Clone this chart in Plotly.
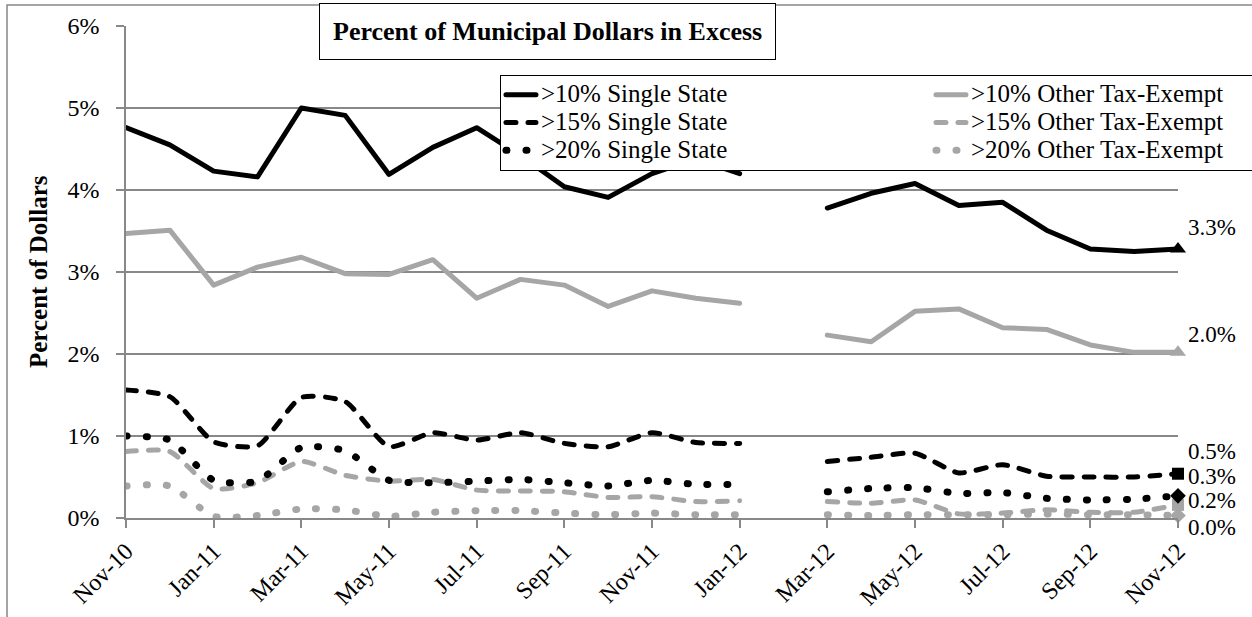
import plotly.graph_objects as go

# ── data ────────────────────────────────────────────────────────────────────
months = ["Nov-10", "Dec-10", "Jan-11", "Feb-11", "Mar-11", "Apr-11", "May-11",
          "Jun-11", "Jul-11", "Aug-11", "Sep-11", "Oct-11", "Nov-11", "Dec-11",
          "Jan-12", "Feb-12", "Mar-12", "Apr-12", "May-12", "Jun-12", "Jul-12",
          "Aug-12", "Sep-12", "Oct-12", "Nov-12"]

ss10 = [4.76, 4.55, 4.23, 4.16, 5.00, 4.91, 4.19, 4.52, 4.76, 4.42, 4.04, 3.91, 4.20,
        4.38, 4.20, None, 3.78, 3.96, 4.08, 3.81, 3.85, 3.51, 3.28, 3.25, 3.28]
ss15 = [1.56, 1.48, 0.93, 0.88, 1.47, 1.42, 0.87, 1.04, 0.95, 1.04, 0.91, 0.87, 1.04,
        0.92, 0.91, None, 0.69, 0.74, 0.79, 0.55, 0.65, 0.51, 0.50, 0.50, 0.54]
ss20 = [1.00, 0.95, 0.46, 0.45, 0.86, 0.82, 0.46, 0.43, 0.45, 0.47, 0.43, 0.39, 0.46,
        0.41, 0.41, None, 0.32, 0.36, 0.37, 0.30, 0.31, 0.24, 0.22, 0.23, 0.27]
ote10 = [3.47, 3.51, 2.84, 3.06, 3.18, 2.98, 2.97, 3.15, 2.68, 2.91, 2.84, 2.58, 2.77,
         2.68, 2.62, None, 2.23, 2.15, 2.52, 2.55, 2.32, 2.30, 2.11, 2.02, 2.02]
ote15 = [0.81, 0.81, 0.36, 0.43, 0.69, 0.52, 0.45, 0.47, 0.34, 0.33, 0.32, 0.25, 0.26,
         0.20, 0.21, None, 0.20, 0.18, 0.22, 0.05, 0.06, 0.10, 0.07, 0.07, 0.16]
ote20 = [0.39, 0.39, 0.02, 0.03, 0.11, 0.10, 0.02, 0.07, 0.09, 0.09, 0.06, 0.04, 0.06,
         0.04, 0.04, None, 0.04, 0.03, 0.04, 0.04, 0.04, 0.05, 0.04, 0.04, 0.03]

tick_months = months[::2]

FONT = "Liberation Serif"
BLACK = "#000000"
GRAY = "#a6a6a6"
GRID = "#888888"

# name, values, colour, dash, width, smooth, end marker, legend rank
series = [
    (">20% Other Tax-Exempt", ote20, GRAY, "1px,19px", 7, True, "diamond", 6),
    (">15% Other Tax-Exempt", ote15, GRAY, "10px,12px", 5, True, "square", 4),
    (">10% Other Tax-Exempt", ote10, GRAY, "solid", 5, False, "triangle-up", 2),
    (">20% Single State", ss20, BLACK, "1px,19px", 7, True, "diamond", 5),
    (">15% Single State", ss15, BLACK, "10px,12px", 5, True, "square", 3),
    (">10% Single State", ss10, BLACK, "solid", 5, False, "triangle-up", 1),
]

fig = go.Figure()

for name, vals, color, dash, width, smooth, symbol, rank in series:
    fig.add_trace(go.Scatter(
        x=months, y=vals, legendrank=rank,
        # bigger text than the legend font keeps the rows tight like the original
        name=f"<span style='font-size:25px'>{name}</span>",
        mode="lines",
        line=dict(color=color, width=width, dash=dash,
                  shape="spline" if smooth else "linear", smoothing=0.6),
        connectgaps=False,
        hovertemplate="%{x}: %{y:.2f}%<extra>" + name + "</extra>",
    ))
    # end-of-series marker
    fig.add_trace(go.Scatter(
        x=[months[-1]], y=[vals[-1]], mode="markers", showlegend=False,
        marker=dict(symbol=symbol, color=color, size=14 if symbol == "triangle-up" else 12),
        cliponaxis=False, hoverinfo="skip",
    ))

# end labels (ordered as in the picture, top to bottom)
label_series = [ss10, ote10, ss15, ss20, ote15, ote20]
label_shift = [22, 18, 22, 19, 4, -12]
for vals, dy in zip(label_series, label_shift):
    fig.add_annotation(
        x=months[-1], y=vals[-1], xref="x", yref="y",
        text=f"{vals[-1]:.1f}%", showarrow=False,
        xanchor="left", yanchor="middle", xshift=8, yshift=dy,
        font=dict(family=FONT, size=23, color=BLACK),
    )

# chart title in a box
fig.add_annotation(
    x=0.4011, y=0.9898, xref="paper", yref="paper",
    xanchor="center", yanchor="middle", showarrow=False,
    text="<b>Percent of Municipal Dollars in Excess</b>",
    font=dict(family=FONT, size=26, color=BLACK),
    bgcolor="white", bordercolor=BLACK, borderwidth=1, borderpad=13,
)

# y axis title
fig.add_annotation(
    x=0, y=0.5, xref="paper", yref="paper", xshift=-88,
    xanchor="center", yanchor="middle", showarrow=False, textangle=-90,
    text="<b>Percent of Dollars</b>",
    font=dict(family=FONT, size=25, color=BLACK),
)

# outer chart frame
fig.add_shape(type="rect", xref="paper", yref="paper",
              x0=-0.1131, x1=1.2, y0=-0.4, y1=1.0427,
              line=dict(color=GRID, width=1.5), layer="below")

fig.update_layout(
    width=1252, height=617,
    margin=dict(l=126, r=74, t=26, b=99, autoexpand=False),
    paper_bgcolor="white", plot_bgcolor="white",
    font=dict(family=FONT, size=24, color=BLACK),
    legend=dict(
        orientation="h", x=0.3555, y=0.9004, xanchor="left", yanchor="top",
        entrywidth=385, entrywidthmode="pixels", itemwidth=30,
        bgcolor="white", bordercolor=BLACK, borderwidth=1,
        font=dict(family=FONT, size=19, color=BLACK),
        tracegroupgap=0,
    ),
)

fig.update_xaxes(
    type="category", categoryorder="array", categoryarray=months,
    range=[0, len(months) - 1], automargin=False,
    tickmode="array", tickvals=tick_months, ticktext=tick_months,
    tickangle=-45, ticks="outside", ticklen=8, tickcolor=GRID, tickwidth=1.5,
    showline=True, linecolor=GRID, linewidth=1.5,
    showgrid=False, zeroline=False,
    tickfont=dict(family=FONT, size=24, color=BLACK),
)
fig.update_yaxes(
    range=[0, 6], dtick=1, ticksuffix="%", automargin=False,
    ticks="outside", ticklen=8, tickcolor=GRID, tickwidth=1.5,
    showline=True, linecolor=GRID, linewidth=1.5,
    showgrid=True, gridcolor=GRID, gridwidth=1.5, zeroline=False,
    ticklabelstandoff=12,
    tickfont=dict(family=FONT, size=24, color=BLACK),
)

# no page margin, and round caps so dotted lines draw as round dots
page_css = ("document.body.style.margin='0';"
            "var s=document.createElement('style');"
            "s.innerHTML='.js-line{stroke-linecap:round;stroke-linejoin:round}';"
            "document.head.appendChild(s);")

fig.write_html("out.html", post_script=page_css, config={"displayModeBar": False})
